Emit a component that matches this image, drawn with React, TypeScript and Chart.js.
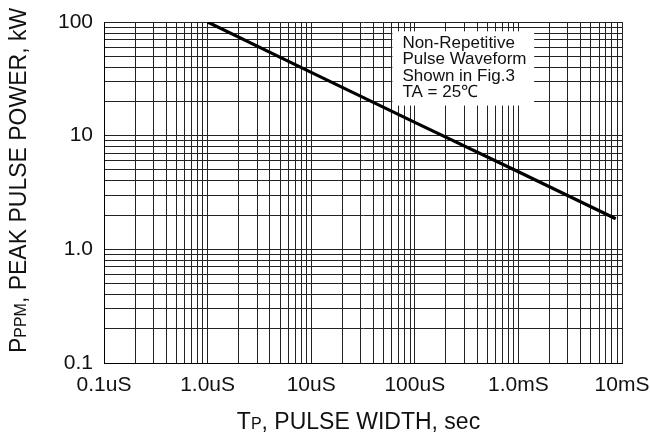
import React, { useEffect, useRef } from "react";
import { Chart, registerables } from "chart.js";

Chart.register(...registerables);

// ---- data ----
const pulseWidthUs = [1, 10, 100, 1000, 8700];
const peakPowerKw = [100, 36, 13.1, 4.82, 1.86];

const xTickValues = [0.1, 1, 10, 100, 1000, 10000];
const xTickLabels = ["0.1uS", "1.0uS", "10uS", "100uS", "1.0mS", "10mS"];
const yTickValues = [0.1, 1, 10, 100];
const yTickLabels = ["0.1", "1.0", "10", "100"];
const gridMultipliers = [1, 2, 3, 4, 5, 6, 7, 8, 9];

const noteLines = ["Non-Repetitive", "Pulse Waveform", "Shown in Fig.3", "TA = 25\u2103"];
// note box corners in data units (x: uS, y: kW)
const noteBox = { x1: 60.8, x2: 1420, y1: 82.8, y2: 18.4, textX: 75.9 };

const FONT = "'Liberation Sans', Arial, Helvetica, sans-serif";

function logGridTicks(min: number, max: number) {
  const out: { value: number }[] = [];
  const e0 = Math.floor(Math.log10(min) + 1e-9);
  const e1 = Math.ceil(Math.log10(max) - 1e-9);
  for (let e = e0; e <= e1; e++) {
    for (const m of gridMultipliers) {
      const v = parseFloat((m * Math.pow(10, e)).toPrecision(8));
      if (v >= min * 0.99999 && v <= max * 1.00001) out.push({ value: v });
    }
  }
  return out;
}

function labelFor(values: number[], labels: string[], v: number) {
  const i = values.findIndex((t) => Math.abs(t - v) / t < 1e-6);
  return i >= 0 ? labels[i] : "";
}

type Seg = { t: string; size: number };

function drawSegments(ctx: CanvasRenderingContext2D, segs: Seg[], cx: number, y: number) {
  let total = 0;
  const widths = segs.map((s) => {
    ctx.font = `${s.size}px ${FONT}`;
    const w = ctx.measureText(s.t).width;
    total += w;
    return w;
  });
  let x = cx - total / 2;
  ctx.textAlign = "left";
  ctx.textBaseline = "alphabetic";
  segs.forEach((s, i) => {
    ctx.font = `${s.size}px ${FONT}`;
    ctx.fillText(s.t, x, y);
    x += widths[i];
  });
}

const overlayPlugin = {
  id: "overlay",
  beforeDatasetsDraw(chart: any) {
    const { ctx, scales } = chart;
    const xs = scales.x;
    const ys = scales.y;
    const l = xs.getPixelForValue(noteBox.x1);
    const r = xs.getPixelForValue(noteBox.x2);
    const t = ys.getPixelForValue(noteBox.y1);
    const b = ys.getPixelForValue(noteBox.y2);
    ctx.save();
    ctx.fillStyle = "#ffffff";
    ctx.fillRect(l, t, r - l, b - t);
    ctx.fillStyle = "#111111";
    ctx.font = `17px ${FONT}`;
    ctx.textAlign = "left";
    ctx.textBaseline = "alphabetic";
    const tx = xs.getPixelForValue(noteBox.textX);
    noteLines.forEach((line, i) => {
      ctx.fillText(line, tx, t + 16.3 + i * 16.6);
    });
    ctx.restore();
  },
  afterDraw(chart: any) {
    const { ctx, chartArea } = chart;
    ctx.save();
    ctx.fillStyle = "#111111";
    // x title
    const cx = (chartArea.left + chartArea.right) / 2 - 4.5;
    drawSegments(
      ctx,
      [
        { t: "T", size: 23 },
        { t: "P", size: 16 },
        { t: ", PULSE WIDTH, sec", size: 23 },
      ],
      cx,
      429
    );
    // y title
    ctx.translate(26, (chartArea.top + chartArea.bottom) / 2 - 12);
    ctx.rotate(-Math.PI / 2);
    drawSegments(
      ctx,
      [
        { t: "P", size: 23 },
        { t: "PPM", size: 16 },
        { t: ", PEAK PULSE POWER, kW", size: 23 },
      ],
      0,
      0
    );
    ctx.restore();
  },
};

export default function App() {
  const ref = useRef<HTMLCanvasElement | null>(null);

  useEffect(() => {
    document.body.style.margin = "0";
    const canvas = ref.current;
    if (!canvas) return;
    const gridColor = "#222222";
    const chart = new Chart(canvas, {
      type: "line",
      data: {
        datasets: [
          {
            label: "Peak pulse power",
            data: pulseWidthUs.map((x, i) => ({ x, y: peakPowerKw[i] })),
            borderColor: "#000000",
            borderWidth: 3.2,
            pointRadius: 0,
            tension: 0,
            fill: false,
          },
        ],
      },
      options: {
        responsive: false,
        animation: false,
        devicePixelRatio: 1,
        layout: { padding: { top: 22, right: 28, left: 0, bottom: 0 } },
        plugins: {
          legend: { display: false },
          tooltip: { enabled: false },
          title: { display: false },
        },
        scales: {
          x: {
            type: "logarithmic",
            min: 0.1,
            max: 10000,
            afterBuildTicks: (scale: any) => {
              scale.ticks = logGridTicks(scale.min, scale.max);
            },
            afterFit: (scale: any) => {
              scale.height = 74;
              scale.paddingLeft = 0;
              scale.paddingRight = 0;
            },
            grid: { color: gridColor, lineWidth: 1, drawTicks: false },
            border: { display: true, color: "#000000", width: 1 },
            ticks: {
              autoSkip: false,
              maxRotation: 0,
              minRotation: 0,
              padding: 10,
              color: "#111111",
              font: { family: FONT, size: 21 },
              callback: (v: any) => labelFor(xTickValues, xTickLabels, Number(v)),
            },
          },
          y: {
            type: "logarithmic",
            min: 0.1,
            max: 100,
            afterBuildTicks: (scale: any) => {
              scale.ticks = logGridTicks(scale.min, scale.max);
            },
            afterFit: (scale: any) => {
              scale.width = 104;
              scale.paddingTop = 0;
              scale.paddingBottom = 0;
            },
            grid: { color: gridColor, lineWidth: 1, drawTicks: false },
            border: { display: true, color: "#000000", width: 1 },
            ticks: {
              autoSkip: false,
              padding: 11,
              color: "#111111",
              font: { family: FONT, size: 21 },
              callback: (v: any) => labelFor(yTickValues, yTickLabels, Number(v)),
            },
          },
        },
      },
      plugins: [overlayPlugin],
    });
    return () => chart.destroy();
  }, []);

  return (
    <div style={{ width: 650, height: 437, background: "#ffffff" }}>
      <canvas ref={ref} width={650} height={437} style={{ display: "block" }} />
    </div>
  );
}
